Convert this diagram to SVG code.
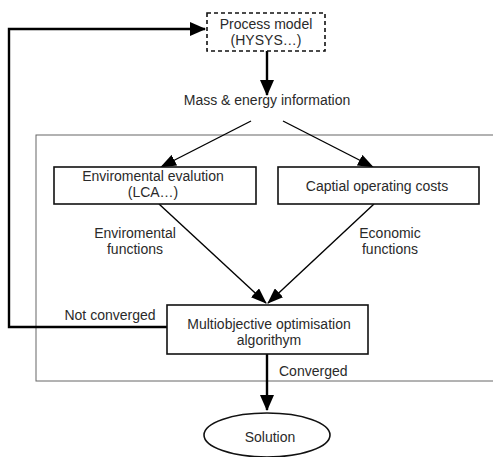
<svg xmlns="http://www.w3.org/2000/svg" width="493" height="457" viewBox="0 0 493 457">
<defs>
<marker id="ah" markerWidth="16" markerHeight="12" refX="15" refY="6" orient="auto" markerUnits="userSpaceOnUse">
<path d="M0,0 L16,6 L0,12 z" fill="#000"/>
</marker>
<marker id="ahb" markerWidth="16" markerHeight="14" refX="15" refY="7" orient="auto" markerUnits="userSpaceOnUse">
<path d="M0,0 L16,7 L0,14 z" fill="#000"/>
</marker>
<style>
text{font-family:"Liberation Sans",Arial,sans-serif;font-size:14px;fill:#2a2a2a;text-anchor:middle}
.box{fill:#fff;stroke:#111;stroke-width:1.6}
.thin{fill:none;stroke:#000;stroke-width:1.4}
.thick{fill:none;stroke:#000;stroke-width:2.4}
</style>
</defs>
<rect x="36" y="135" width="460" height="246" fill="none" stroke="#666" stroke-width="1"/>
<g id="connectors">
<path class="thick" d="M267,51 V95" marker-end="url(#ahb)"/>
<path class="thick" d="M167,327 H9 V29 H205" marker-end="url(#ahb)"/>
<path class="thin" d="M251,121 L161,167" marker-end="url(#ah)"/>
<path class="thin" d="M283,121 L373,167" marker-end="url(#ah)"/>
<path class="thin" d="M159,204 L266,303" marker-end="url(#ah)"/>
<path class="thin" d="M374,204 L268,303" marker-end="url(#ah)"/>
<path class="thick" d="M267,354 V410" marker-end="url(#ahb)"/>
<text x="267" y="105">Mass &amp; energy information</text>
<text x="135" y="238">Enviromental</text>
<text x="135" y="254">functions</text>
<text x="390" y="238">Economic</text>
<text x="390" y="254">functions</text>
<text x="110" y="320">Not converged</text>
<text x="279" y="376" style="text-anchor:start">Converged</text>
</g>
<g id="process">
<rect class="box" x="207" y="13" width="118" height="38" stroke-dasharray="4,3"/>
<text x="266" y="29">Process model</text>
<text x="266" y="45">(HYSYS…)</text>
</g>
<g id="env">
<rect class="box" x="54" y="167" width="202" height="37"/>
<text x="153" y="181">Enviromental evalution</text>
<text x="153" y="197">(LCA…)</text>
</g>
<g id="cost">
<rect class="box" x="278" y="167" width="201" height="37"/>
<text x="377" y="191">Captial operating costs</text>
</g>
<g id="moo">
<rect class="box" x="167" y="305" width="201" height="49"/>
<text x="269" y="329">Multiobjective optimisation</text>
<text x="269" y="345">algorithym</text>
</g>
<g id="solution">
<ellipse class="box" cx="267" cy="435" rx="63" ry="22"/>
<text x="270" y="442">Solution</text>
</g>
</svg>
